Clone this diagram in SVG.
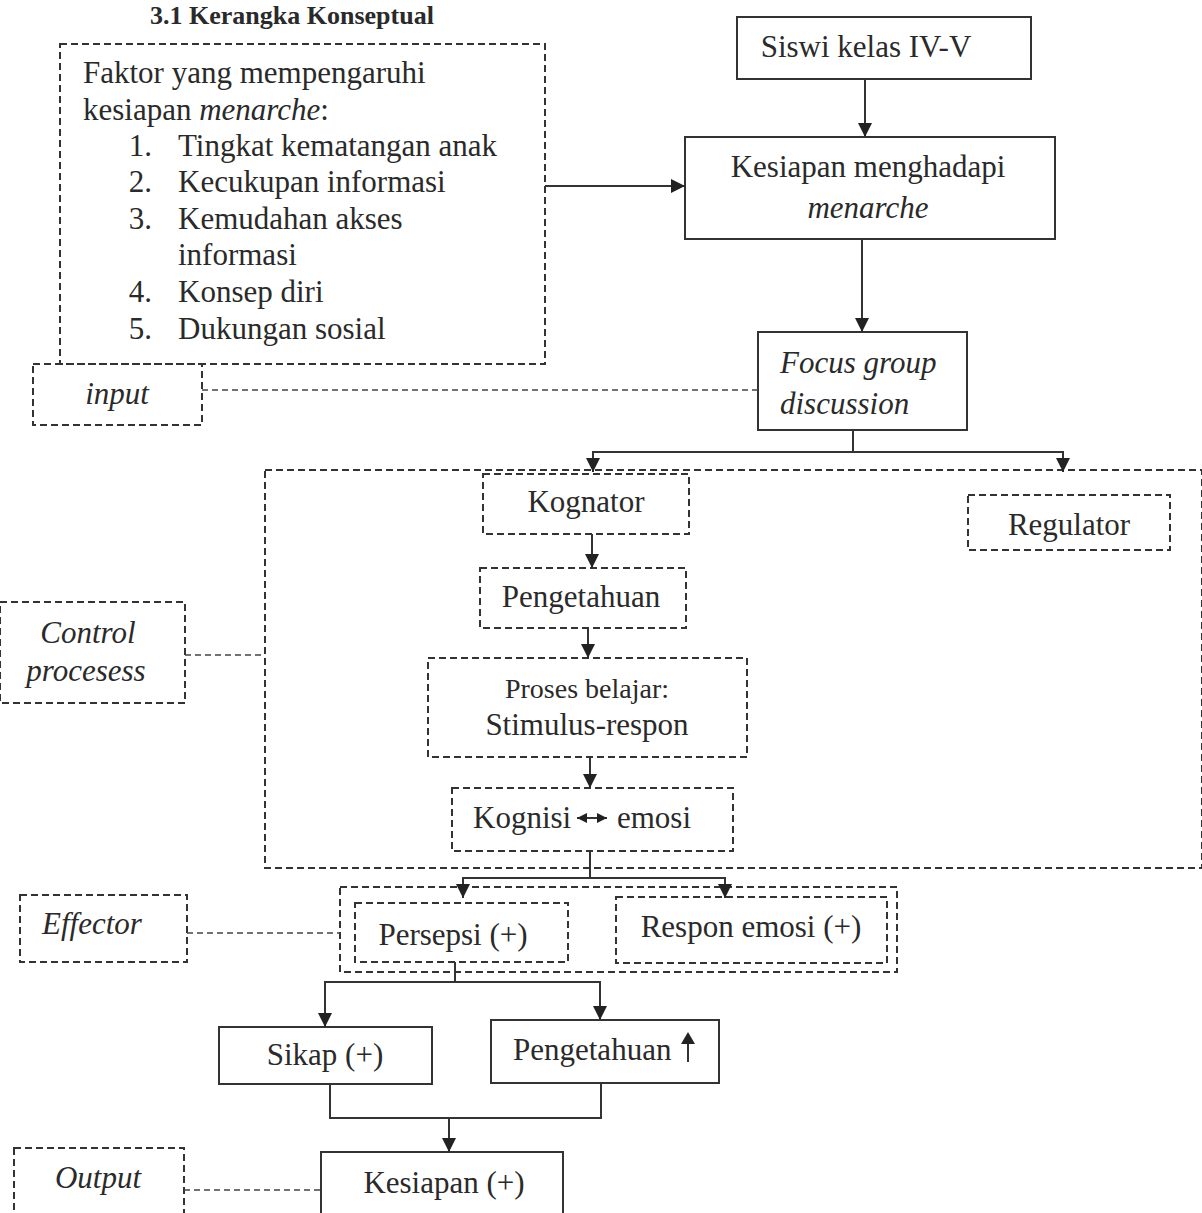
<svg xmlns="http://www.w3.org/2000/svg" width="1202" height="1213" viewBox="0 0 1202 1213">
<style>
text{font-family:"Liberation Serif","Times New Roman",serif;font-size:31px;fill:#2a2a2a}
.it{font-style:italic}
.c{text-anchor:middle}
.solid{fill:none;stroke:#333;stroke-width:2}
.dash{fill:none;stroke:#333;stroke-width:2;stroke-dasharray:7,4}
.ln{fill:none;stroke:#333;stroke-width:2}
.dl{fill:none;stroke:#444;stroke-width:1.6;stroke-dasharray:6,4}
</style>
<defs>
<marker id="ah" markerUnits="userSpaceOnUse" markerWidth="14" markerHeight="16" refX="14" refY="7" orient="auto-start-reverse">
<path d="M0,0 L14,7 L0,14 Z" fill="#222"/>
</marker>
<marker id="ahs" markerUnits="userSpaceOnUse" markerWidth="10" markerHeight="10" refX="10" refY="5" orient="auto-start-reverse">
<path d="M0,0 L10,5 L0,10 Z" fill="#222"/>
</marker>
</defs>
<rect width="1202" height="1213" fill="#fff"/>
<text x="150" y="24" style="font-weight:bold;font-size:26px">3.1 Kerangka Konseptual</text>

<g id="factors">
<rect class="dash" x="60" y="44" width="485" height="320"/>
<text x="83" y="83">Faktor yang mempengaruhi</text>
<text x="83" y="120">kesiapan <tspan class="it">menarche</tspan>:</text>
<text x="152" y="156" text-anchor="end">1.</text><text x="178" y="156">Tingkat kematangan anak</text>
<text x="152" y="192" text-anchor="end">2.</text><text x="178" y="192">Kecukupan informasi</text>
<text x="152" y="229" text-anchor="end">3.</text><text x="178" y="229">Kemudahan akses</text>
<text x="178" y="265">informasi</text>
<text x="152" y="302" text-anchor="end">4.</text><text x="178" y="302">Konsep diri</text>
<text x="152" y="339" text-anchor="end">5.</text><text x="178" y="339">Dukungan sosial</text>
</g>
<g id="input"><rect class="dash" x="33" y="364" width="169" height="61" fill="#fff"/><text class="it c" x="117" y="404">input</text></g>
<g id="siswi"><rect class="solid" x="737" y="17" width="294" height="62"/><text class="c" x="866" y="57">Siswi kelas IV-V</text></g>
<g id="kesiapan-menarche"><rect class="solid" x="685" y="137" width="370" height="102"/><text class="c" x="868" y="177">Kesiapan menghadapi</text><text class="it c" x="868" y="218">menarche</text></g>
<g id="fgd"><rect class="solid" x="758" y="332" width="209" height="98"/><text class="it" x="780" y="373">Focus group</text><text class="it" x="780" y="414">discussion</text></g>
<g id="control-box"><rect class="dash" x="265" y="470" width="937" height="398"/></g>
<g id="control-label"><rect class="dash" x="0" y="602" width="185" height="101"/><text class="it c" x="88" y="643">Control</text><text class="it c" x="86" y="681">procesess</text></g>
<g id="kognator"><rect class="dash" x="483" y="474" width="206" height="60"/><text class="c" x="586" y="512">Kognator</text></g>
<g id="regulator"><rect class="dash" x="968" y="495" width="202" height="55"/><text class="c" x="1069" y="535">Regulator</text></g>
<g id="pengetahuan1"><rect class="dash" x="480" y="568" width="206" height="60"/><text class="c" x="581" y="607">Pengetahuan</text></g>
<g id="proses"><rect class="dash" x="428" y="658" width="319" height="99"/><text class="c" x="587" y="698" style="font-size:28px">Proses belajar:</text><text class="c" x="587" y="735">Stimulus-respon</text></g>
<g id="kognisi"><rect class="dash" x="452" y="788" width="281" height="63"/><text x="473" y="828">Kognisi</text><text x="617" y="828">emosi</text>
<line class="ln" x1="577" y1="818" x2="607" y2="818" marker-start="url(#ahs)" marker-end="url(#ahs)"/></g>
<g id="effector-group"><rect class="dash" x="340" y="887" width="557" height="85"/></g>
<g id="persepsi"><rect class="dash" x="355" y="903" width="213" height="59"/><text class="c" x="453" y="945">Persepsi (+)</text></g>
<g id="respon"><rect class="dash" x="616" y="897" width="271" height="66"/><text class="c" x="751" y="937">Respon emosi (+)</text></g>
<g id="effector"><rect class="dash" x="20" y="895" width="167" height="67"/><text class="it c" x="92" y="934">Effector</text></g>
<g id="sikap"><rect class="solid" x="219" y="1027" width="213" height="57"/><text class="c" x="325" y="1065">Sikap (+)</text></g>
<g id="pengetahuan2"><rect class="solid" x="491" y="1020" width="228" height="63"/><text x="513" y="1060">Pengetahuan</text>
<line class="ln" x1="688" y1="1062" x2="688" y2="1040"/><path d="M681,1044 L688,1032 L695,1044 Z" fill="#222"/></g>
<g id="kesiapan-out"><rect class="solid" x="321" y="1152" width="242" height="70"/><text class="c" x="444" y="1193">Kesiapan (+)</text></g>
<g id="output"><rect class="dash" x="14" y="1148" width="170" height="70"/><text class="it c" x="98" y="1188">Output</text></g>

<g id="connectors">
<line class="ln" x1="545" y1="186" x2="685" y2="186" marker-end="url(#ah)"/>
<line class="ln" x1="865" y1="79" x2="865" y2="137" marker-end="url(#ah)"/>
<line class="ln" x1="862" y1="239" x2="862" y2="332" marker-end="url(#ah)"/>
<line class="ln" x1="853" y1="430" x2="853" y2="452"/>
<polyline class="ln" points="593,472 593,452 1063,452 1063,472" marker-start="url(#ah)" marker-end="url(#ah)"/>
<line class="ln" x1="592" y1="534" x2="592" y2="568" marker-end="url(#ah)"/>
<line class="ln" x1="588" y1="628" x2="588" y2="658" marker-end="url(#ah)"/>
<line class="ln" x1="590" y1="757" x2="590" y2="788" marker-end="url(#ah)"/>
<line class="ln" x1="590" y1="851" x2="590" y2="878"/>
<polyline class="ln" points="463,898 463,878 725,878 725,898" marker-start="url(#ah)" marker-end="url(#ah)"/>
<line class="ln" x1="455" y1="962" x2="455" y2="982"/>
<polyline class="ln" points="325,1027 325,982 600,982 600,1020" marker-start="url(#ah)" marker-end="url(#ah)"/>
<polyline class="ln" points="330,1084 330,1118 601,1118 601,1083"/>
<line class="ln" x1="449" y1="1118" x2="449" y2="1152" marker-end="url(#ah)"/>
<line class="dl" x1="202" y1="390" x2="758" y2="390"/>
<line class="dl" x1="185" y1="655" x2="265" y2="655"/>
<line class="dl" x1="187" y1="933" x2="340" y2="933"/>
<line class="dl" x1="184" y1="1190" x2="321" y2="1190"/>
</g>
</svg>
